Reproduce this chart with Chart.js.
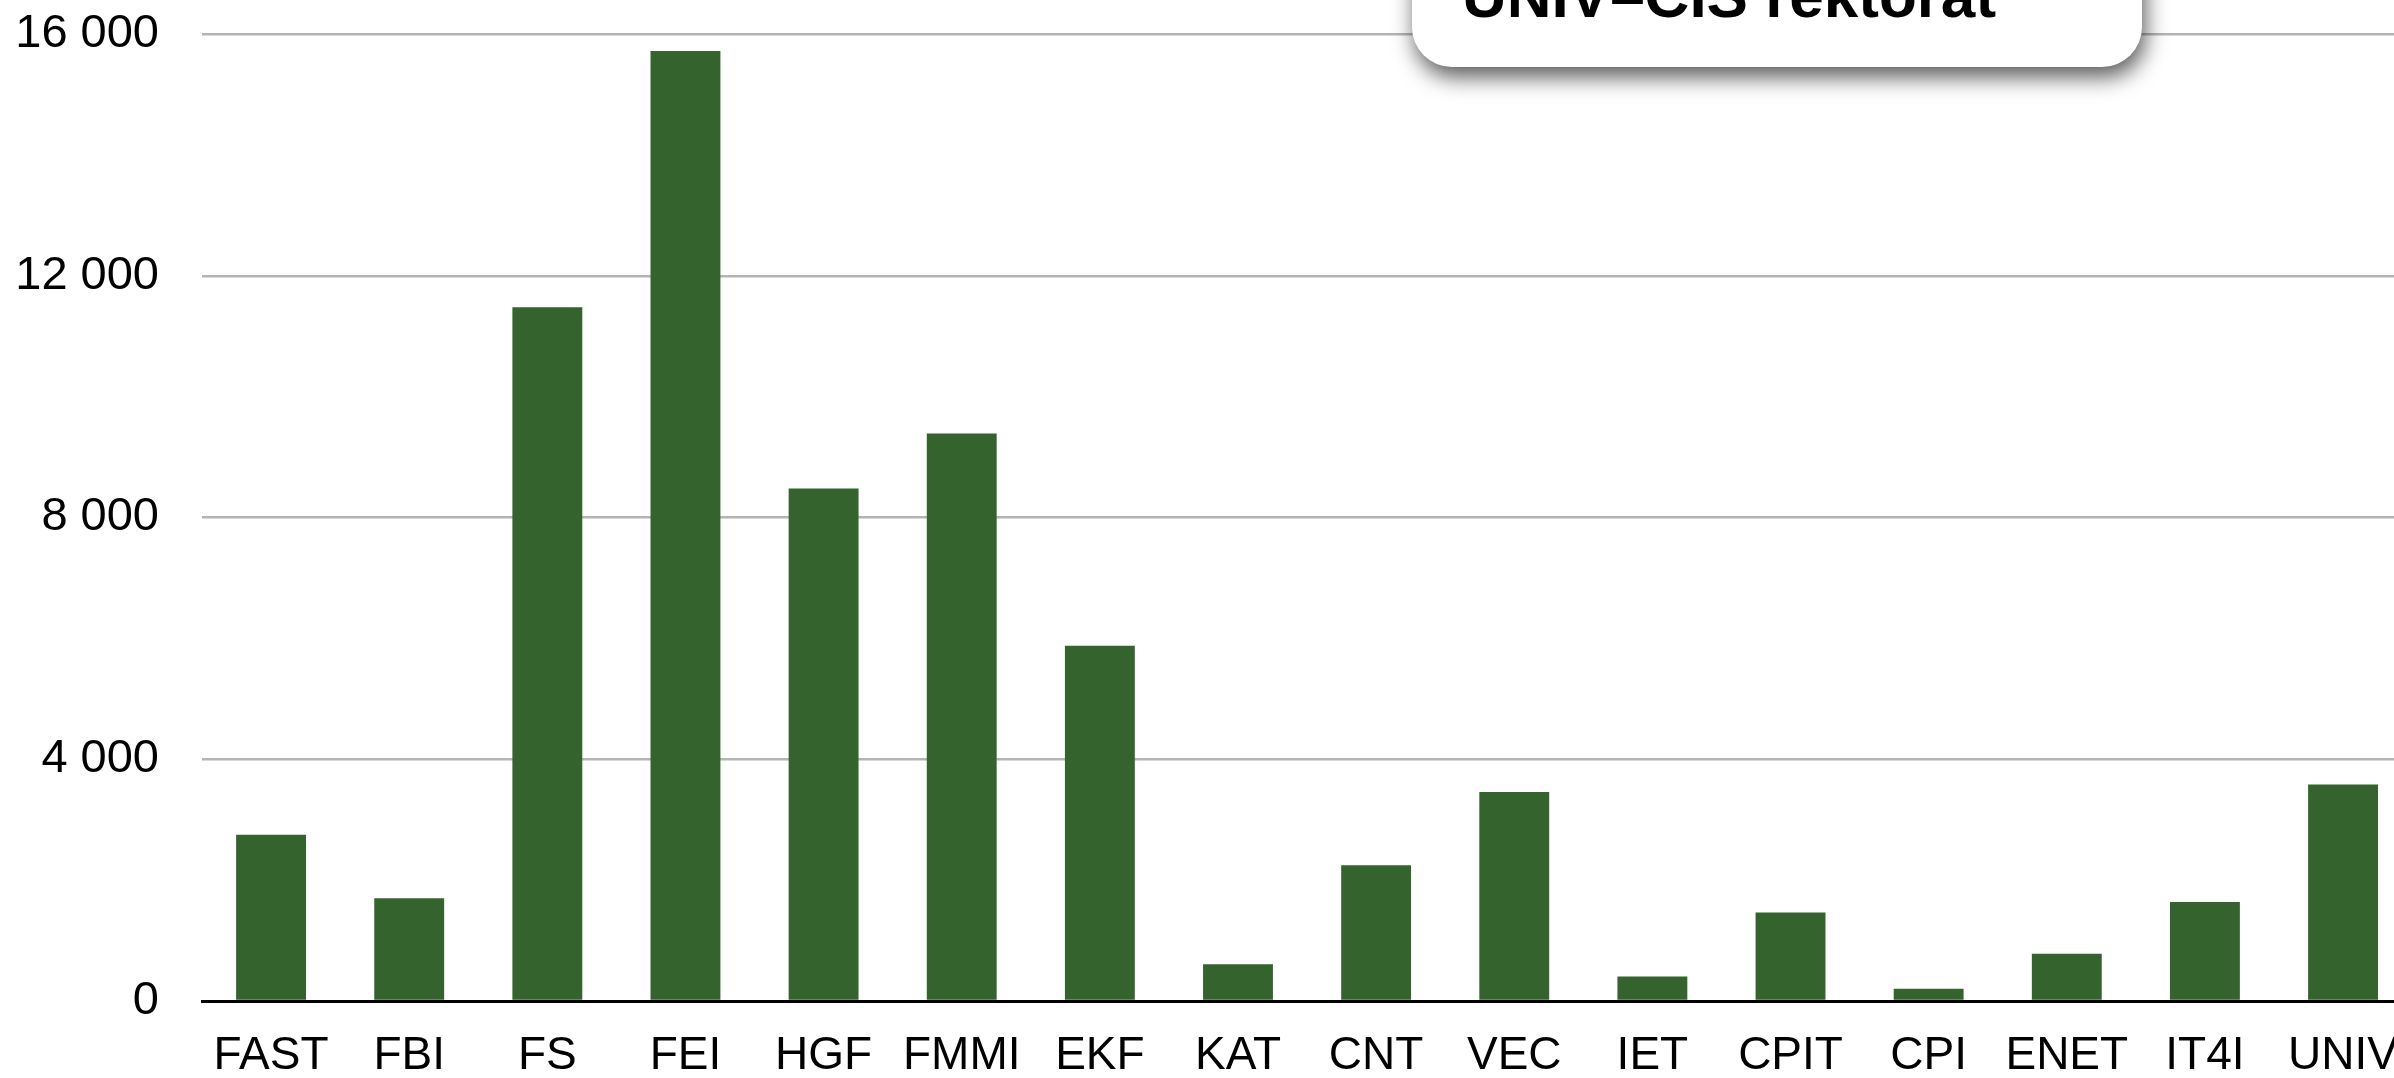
<!DOCTYPE html>
<html>
<head>
<meta charset="utf-8">
<script src="https://cdn.jsdelivr.net/npm/chart.js@4/dist/chart.umd.min.js"></script>
<style>
  html, body { margin: 0; padding: 0; background: #fff; overflow: hidden; }
  canvas { display: block; }
</style>
</head>
<body>
<canvas id="myChart" width="2426" height="1078"></canvas>
<script>
var labels = ['FAST', 'FBI', 'FS', 'FEI', 'HGF', 'FMMI', 'EKF', 'KAT', 'CNT', 'VEC', 'IET', 'CPIT', 'CPI', 'ENET', 'IT4I', 'UNIV'];
var values = [2750, 1700, 11480, 15720, 8480, 9390, 5880, 606, 2246, 3457, 404, 1464, 202, 782, 1640, 3584];
var yTicks = [0, 4000, 8000, 12000, 16000];
var calloutText = 'UNIV–CIS rektorát';

function fmt(v) {
  return String(v).replace(/\B(?=(\d{3})+(?!\d))/g, ' ');
}

// white rounded box with shadow at the top (partly cut off)
var callout = {
  id: 'callout',
  afterDraw: function (chart) {
    var ctx = chart.ctx;
    var x = 1412, y = -80, w = 730, h = 147, r = 40;
    ctx.save();
    ctx.shadowColor = 'rgba(0,0,0,0.65)';
    ctx.shadowBlur = 22;
    ctx.shadowOffsetX = 3;
    ctx.shadowOffsetY = 10;
    ctx.fillStyle = '#fff';
    ctx.beginPath();
    ctx.roundRect(x, y, w, h, r);
    ctx.fill();
    ctx.restore();
    ctx.save();
    ctx.fillStyle = '#000';
    ctx.font = 'bold 62px "Liberation Sans", Arial, sans-serif';
    ctx.textBaseline = 'alphabetic';
    ctx.fillText(calloutText, 1462, 17);
    ctx.restore();
  }
};

var ctx = document.getElementById('myChart').getContext('2d');
var myChart = new Chart(ctx, {
  type: 'bar',
  data: {
    labels: labels,
    datasets: [{
      data: values,
      backgroundColor: '#35632e',
      borderWidth: 0,
      categoryPercentage: 1,
      barPercentage: 0.506
    }]
  },
  options: {
    responsive: false,
    animation: false,
    layout: { padding: 0 },
    plugins: {
      legend: { display: false },
      tooltip: { enabled: false }
    },
    scales: {
      x: {
        grid: { display: false, drawTicks: false },
        border: { display: true, color: '#000', width: 3 },
        ticks: {
          color: '#000',
          padding: 28,
          maxRotation: 0,
          autoSkip: false,
          font: { family: '"Liberation Sans", Arial, sans-serif', size: 46 }
        },
        afterFit: function (scale) { scale.height = 77; }
      },
      y: {
        min: 0,
        max: 16000,
        afterBuildTicks: function (scale) {
          scale.ticks = yTicks.map(function (v) { return { value: v }; });
        },
        grid: { color: '#b4b4b4', lineWidth: 2.5, drawTicks: false },
        border: { display: false },
        ticks: {
          color: '#000',
          padding: 43,
          font: { family: '"Liberation Sans", Arial, sans-serif', size: 47 },
          callback: function (v) { return fmt(v); }
        },
        afterFit: function (scale) {
          scale.width = 202;
          scale.paddingTop = 34;
        }
      }
    }
  },
  plugins: [callout]
});
</script>
</body>
</html>
